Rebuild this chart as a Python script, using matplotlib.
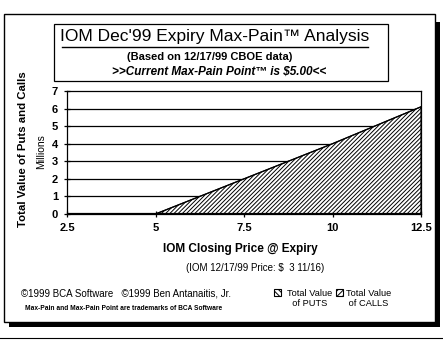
import matplotlib
matplotlib.use("Agg")
import matplotlib.pyplot as plt
from matplotlib.patches import Rectangle
from matplotlib.lines import Line2D

W, H = 443, 342

# data (millions)
prices = [2.5, 5, 7.5, 10, 12.5]
puts_value = [0, 0, 0, 0, 0]
calls_value = [0, 0, 2.0, 4.0, 6.1]
x_ticks = [2.5, 5, 7.5, 10, 12.5]
x_tick_labels = ["2.5", "5", "7.5", "10", "12.5"]
y_ticks = [0, 1, 2, 3, 4, 5, 6, 7]

plt.rcParams['font.family'] = ['Liberation Sans', 'DejaVu Sans']
plt.rcParams['hatch.linewidth'] = 0.7


def fx(x):
    return x / W


def fy(y):
    return 1 - y / H


fig = plt.figure(figsize=(W / 100, H / 100), dpi=100)
fig.patch.set_facecolor('white')

# outer frame with drop shadow
fig.add_artist(Rectangle((fx(9), fy(327)), fx(431), 305 / H, transform=fig.transFigure,
                         facecolor='black', edgecolor='none', zorder=0))
fig.add_artist(Rectangle((fx(4), fy(322)), fx(431), 308 / H, transform=fig.transFigure,
                         facecolor='white', edgecolor='black', linewidth=1, zorder=1))
fig.add_artist(Line2D([0, 1], [fy(338), fy(338)], transform=fig.transFigure,
                      color='black', linewidth=0.8))

# title box
fig.add_artist(Rectangle((fx(54), fy(81)), fx(334), 57 / H, transform=fig.transFigure,
                         facecolor='white', edgecolor='black', linewidth=0.9, zorder=2))
fig.text(fx(215), fy(37), "IOM Dec'99 Expiry Max-Pain\u2122 Analysis", ha='center', va='center',
         fontsize=12.5, zorder=3)
fig.add_artist(Line2D([fx(62), fx(368)], [fy(47), fy(47)], transform=fig.transFigure,
                      color='black', linewidth=1, zorder=3))
fig.text(fx(210), fy(57), "(Based on 12/17/99 CBOE data)", ha='center', va='center',
         fontsize=8, fontweight='bold', zorder=3)
fig.text(fx(219), fy(72), ">>Current Max-Pain Point\u2122 is $5.00<<", ha='center', va='center',
         fontsize=8.5, fontweight='bold', fontstyle='italic', zorder=3)

# plot area
ax = fig.add_axes([fx(67), fy(214), fx(421 - 67), 123 / H])
ax.set_zorder(4)
ax.set_xlim(2.5, 12.5)
ax.set_ylim(0, 7)
for v in y_ticks[1:-1]:
    ax.axhline(v, color='black', linewidth=0.9, zorder=1)

lower = puts_value
upper = [p + c for p, c in zip(puts_value, calls_value)]
ax.fill_between(prices, 0, lower, facecolor='white', edgecolor='black', hatch='\\' * 8,
                linewidth=0.8, zorder=2)
ax.fill_between(prices, lower, upper, facecolor='white', edgecolor='black', hatch='/' * 8,
                linewidth=0.8, zorder=2)
ax.plot(prices, upper, color='black', linewidth=0.9, zorder=3)
ax.plot(prices, lower, color='black', linewidth=1.6, zorder=3)

ax.set_xticks(x_ticks)
ax.set_xticklabels(x_tick_labels)
ax.set_yticks(y_ticks)
ax.tick_params(direction='inout', length=5, width=0.9, labelsize=8, pad=4)
for lab in ax.get_xticklabels() + ax.get_yticklabels():
    lab.set_fontweight('bold')
for s in ax.spines.values():
    s.set_linewidth(0.9)

# axis labels
fig.text(fx(23), fy(149), "Total Value of Puts and Calls", rotation=90, ha='center', va='center',
         fontsize=8.2, fontweight='bold')
fig.text(fx(41), fy(152), "Millions", rotation=90, ha='center', va='center', fontsize=7.5)
fig.text(fx(240), fy(249), "IOM Closing Price @ Expiry", ha='center', va='center',
         fontsize=8.5, fontweight='bold')
fig.text(fx(255), fy(268), "(IOM 12/17/99 Price: $  3 11/16)", ha='center', va='center',
         fontsize=7)

# footer
fig.text(fx(21), fy(293), "\u00a91999 BCA Software   \u00a91999 Ben Antanaitis, Jr.", ha='left',
         va='center', fontsize=7)
fig.text(fx(25), fy(309), "Max-Pain and Max-Pain Point are trademarks of BCA Software", ha='left',
         va='center', fontsize=4.8, fontweight='bold')

# legend
fig.add_artist(Rectangle((fx(274), fy(296)), fx(7), 7 / H, transform=fig.transFigure,
                         facecolor='white', edgecolor='black', hatch='\\' * 6, linewidth=0.8))
fig.text(fx(287), fy(293), "Total Value", ha='left', va='center', fontsize=6.7)
fig.text(fx(287), fy(304), "  of PUTS", ha='left', va='center', fontsize=6.7)
fig.add_artist(Rectangle((fx(336), fy(296)), fx(7), 7 / H, transform=fig.transFigure,
                         facecolor='white', edgecolor='black', hatch='/' * 6, linewidth=0.8))
fig.text(fx(346), fy(293), "Total Value", ha='left', va='center', fontsize=6.7)
fig.text(fx(346), fy(304), " of CALLS", ha='left', va='center', fontsize=6.7)

fig.savefig("out.png", dpi=100)
